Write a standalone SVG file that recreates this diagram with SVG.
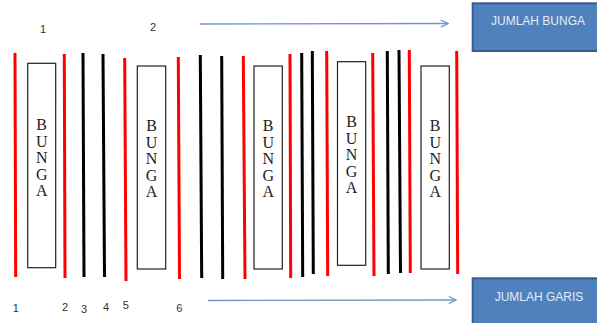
<svg xmlns="http://www.w3.org/2000/svg" width="597" height="323" viewBox="0 0 597 323">
<defs>
<marker id="arr" viewBox="0 0 10 10" refX="9" refY="5" markerWidth="9" markerHeight="9" markerUnits="userSpaceOnUse" orient="auto">
<path d="M1,1 L9,5 L1,9" fill="none" stroke="#6f95c8" stroke-width="1.3"/>
</marker>
</defs>
<style>
.r{stroke:#ff0000;stroke-width:3;fill:none}
.k{stroke:#000;stroke-width:3;fill:none}
.box{fill:#fff;stroke:#222;stroke-width:1.2}
.bt{font-family:"Liberation Serif","Times New Roman",serif;font-size:16px;fill:#222;text-anchor:middle}
.num{font-family:"Liberation Sans",Arial,sans-serif;font-size:11px;fill:#333;text-anchor:middle}
.blue{fill:#4f81bd;stroke:#385d8a;stroke-width:2}
.bl{font-family:"Liberation Sans",Arial,sans-serif;font-size:12px;fill:#e4ecf7;text-anchor:middle}
.a{stroke:#6f95c8;stroke-width:1.3;fill:none}
</style>
<g id="lines">
<line class="r" x1="15" y1="53" x2="15.7" y2="277"/>
<line class="r" x1="64.3" y1="54" x2="65" y2="278"/>
<line class="k" x1="83" y1="53" x2="84" y2="277"/>
<line class="k" x1="103" y1="54" x2="104.5" y2="277"/>
<line class="r" x1="124.7" y1="58" x2="126" y2="281"/>
<line class="r" x1="178.3" y1="57" x2="179.5" y2="279"/>
<line class="k" x1="200.3" y1="55" x2="201.7" y2="278"/>
<line class="k" x1="221.7" y1="56" x2="222.7" y2="279"/>
<line class="r" x1="243.3" y1="56" x2="245" y2="279"/>
<line class="r" x1="290" y1="54" x2="290.7" y2="278"/>
<line class="k" x1="301.7" y1="53" x2="302.7" y2="277"/>
<line class="k" x1="312.3" y1="51" x2="313.3" y2="274"/>
<line class="r" x1="326.7" y1="51" x2="327.7" y2="276"/>
<line class="r" x1="372.7" y1="53" x2="374" y2="276"/>
<line class="k" x1="387.3" y1="51" x2="388.3" y2="274"/>
<line class="k" x1="399" y1="50" x2="400.5" y2="273"/>
<line class="r" x1="409.3" y1="50" x2="410.3" y2="273"/>
<line class="r" x1="456.7" y1="51" x2="457.7" y2="274"/>
</g>
<g id="bunga1">
<rect class="box" x="27.7" y="63.3" width="28" height="204.4"/>
<text class="bt" x="41.7" y="130">B</text><text class="bt" x="41.7" y="146.5">U</text><text class="bt" x="41.7" y="163">N</text><text class="bt" x="41.7" y="179.5">G</text><text class="bt" x="41.7" y="196">A</text>
</g>
<g id="bunga2">
<rect class="box" x="137.3" y="66" width="28.4" height="203"/>
<text class="bt" x="151.5" y="131">B</text><text class="bt" x="151.5" y="147.5">U</text><text class="bt" x="151.5" y="164">N</text><text class="bt" x="151.5" y="180.5">G</text><text class="bt" x="151.5" y="197">A</text>
</g>
<g id="bunga3">
<rect class="box" x="254" y="66" width="28.3" height="203"/>
<text class="bt" x="268.2" y="131">B</text><text class="bt" x="268.2" y="147.5">U</text><text class="bt" x="268.2" y="164">N</text><text class="bt" x="268.2" y="180.5">G</text><text class="bt" x="268.2" y="197">A</text>
</g>
<g id="bunga4">
<rect class="box" x="337.5" y="61.7" width="28.2" height="203.6"/>
<text class="bt" x="351.6" y="127">B</text><text class="bt" x="351.6" y="143.5">U</text><text class="bt" x="351.6" y="160">N</text><text class="bt" x="351.6" y="176.5">G</text><text class="bt" x="351.6" y="193">A</text>
</g>
<g id="bunga5">
<rect class="box" x="421" y="66" width="28.3" height="203"/>
<text class="bt" x="435.2" y="131">B</text><text class="bt" x="435.2" y="147.5">U</text><text class="bt" x="435.2" y="164">N</text><text class="bt" x="435.2" y="180.5">G</text><text class="bt" x="435.2" y="197">A</text>
</g>
<g id="labels">
<text class="num" x="43" y="33">1</text>
<text class="num" x="153" y="31">2</text>
<text class="num" x="15.7" y="311.5">1</text>
<text class="num" x="65" y="310.5">2</text>
<text class="num" x="84" y="313">3</text>
<text class="num" x="106" y="310.5">4</text>
<text class="num" x="125.7" y="309">5</text>
<text class="num" x="179.3" y="311.5">6</text>
</g>
<g id="jumlah-bunga">
<rect class="blue" x="472.7" y="3.3" width="130" height="47.7"/>
<text class="bl" x="538" y="25">JUMLAH BUNGA</text>
</g>
<g id="jumlah-garis">
<rect class="blue" x="472.7" y="278.3" width="130" height="50"/>
<text class="bl" x="539" y="300.5">JUMLAH GARIS</text>
</g>
<g id="connectors">
<line class="a" x1="200" y1="24" x2="448" y2="23.5" marker-end="url(#arr)"/>
<line class="a" x1="208" y1="300.5" x2="456" y2="300" marker-end="url(#arr)"/>
</g>
</svg>
